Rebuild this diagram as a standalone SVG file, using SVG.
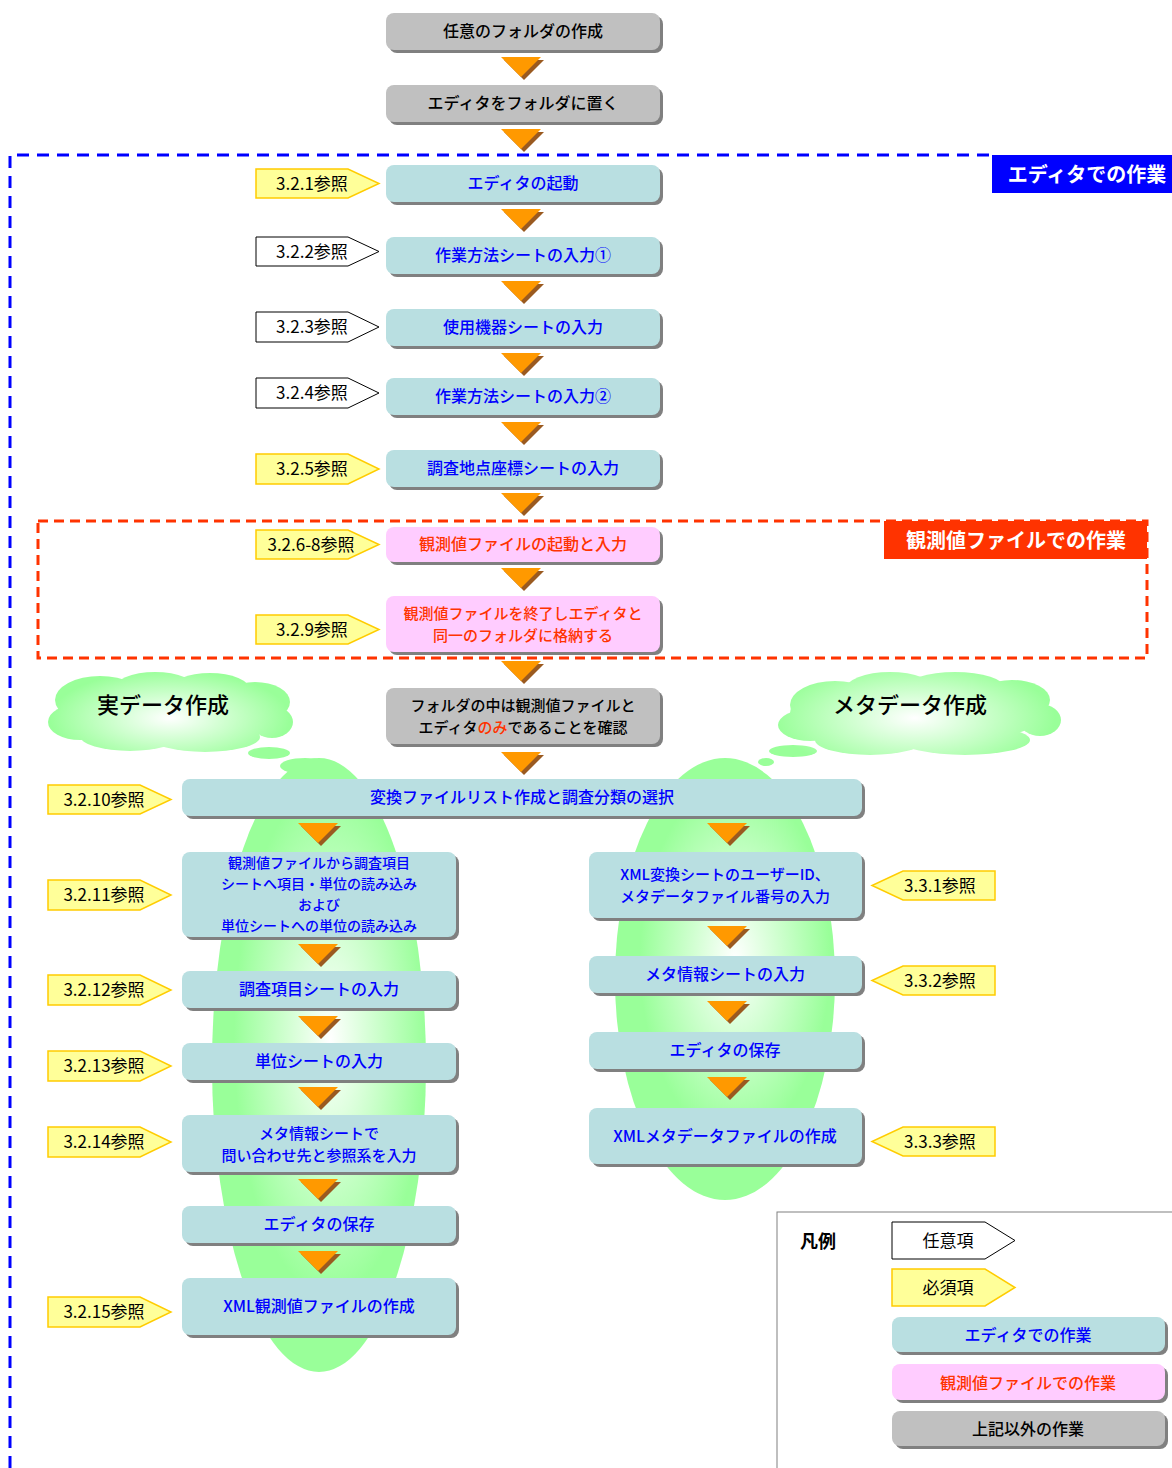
<svg xmlns="http://www.w3.org/2000/svg" xmlns:xlink="http://www.w3.org/1999/xlink" width="1172" height="1468" viewBox="0 0 1172 1468">
<defs>
<style>
text{font-family:"Noto Sans CJK JP","Noto Sans",sans-serif;}
.bt{font-size:16px;font-weight:500;text-anchor:middle;fill:#0000FF;}
.rt{font-size:16px;font-weight:500;text-anchor:middle;fill:#FF3300;}
.kt{font-size:16px;font-weight:500;text-anchor:middle;fill:#000;}
.m2{font-size:15px;}
.m4{font-size:14px;}
.tt{font-size:17px;text-anchor:middle;fill:#000;}
.sh{fill:#808080;}
.blu{fill:#B9DFE1;}
.pnk{fill:#FFCCFF;}
.gry{fill:#C0C0C0;}
.ytag{fill:#FFFF99;stroke:#FFCC00;stroke-width:1.5;}
.wtag{fill:#FFFFFF;stroke:#000;stroke-width:1;}
.cl{font-size:22px;font-weight:500;fill:#000;text-anchor:middle;}
.lab{font-size:20px;font-weight:bold;fill:#FFF;text-anchor:middle;}
</style>
<g id="arr">
<polygon points="-17,3 23,3 3,23" fill="#9A5A20"/>
<polygon points="-20,0 20,0 0,20" fill="#FF9900"/>
</g>
<radialGradient id="gL" gradientUnits="userSpaceOnUse" cx="330" cy="1040" r="200" gradientTransform="translate(330 1040) scale(0.6 1.6) translate(-330 -1040)">
<stop offset="0" stop-color="#FFFFFF"/>
<stop offset="0.8" stop-color="#99FF99"/>
</radialGradient>
<radialGradient id="gR" gradientUnits="userSpaceOnUse" cx="735" cy="960" r="140" gradientTransform="translate(735 960) scale(0.8 1.5) translate(-735 -960)">
<stop offset="0" stop-color="#FFFFFF"/>
<stop offset="0.85" stop-color="#99FF99"/>
</radialGradient>
<radialGradient id="gCL" gradientUnits="userSpaceOnUse" cx="170" cy="718" r="120" gradientTransform="translate(170 718) scale(1 0.4) translate(-170 -718)">
<stop offset="0" stop-color="#FFFFFF"/>
<stop offset="1" stop-color="#99FF99"/>
</radialGradient>
<radialGradient id="gCR" gradientUnits="userSpaceOnUse" cx="915" cy="718" r="140" gradientTransform="translate(915 718) scale(1 0.4) translate(-915 -718)">
<stop offset="0" stop-color="#FFFFFF"/>
<stop offset="1" stop-color="#99FF99"/>
</radialGradient>
</defs>
<rect width="1172" height="1468" fill="#FFFFFF"/>

<!-- green ellipses -->
<g id="ellipses">
<ellipse cx="319" cy="1065" rx="107" ry="307" fill="url(#gL)"/>
<ellipse cx="725" cy="979" rx="110" ry="221" fill="url(#gR)"/>
</g>

<!-- clouds -->
<g id="cloud-left">
<g fill="url(#gCL)">
<ellipse cx="170" cy="713" rx="112" ry="32"/>
<ellipse cx="100" cy="700" rx="45" ry="24"/>
<ellipse cx="155" cy="690" rx="42" ry="18"/>
<ellipse cx="210" cy="690" rx="40" ry="17"/>
<ellipse cx="255" cy="702" rx="35" ry="20"/>
<ellipse cx="272" cy="722" rx="21" ry="16"/>
<ellipse cx="80" cy="722" rx="32" ry="18"/>
<ellipse cx="130" cy="736" rx="50" ry="15"/>
<ellipse cx="205" cy="737" rx="55" ry="15"/>
<ellipse cx="269" cy="753" rx="21" ry="6"/>
<ellipse cx="305" cy="766" rx="25" ry="8"/>
</g>
<text class="cl" x="163" y="713">実データ作成</text>
</g>
<g id="cloud-right">
<g fill="url(#gCR)">
<ellipse cx="918" cy="713" rx="128" ry="32"/>
<ellipse cx="835" cy="705" rx="45" ry="24"/>
<ellipse cx="890" cy="690" rx="45" ry="18"/>
<ellipse cx="955" cy="688" rx="50" ry="16"/>
<ellipse cx="1012" cy="700" rx="38" ry="20"/>
<ellipse cx="1040" cy="720" rx="21" ry="16"/>
<ellipse cx="810" cy="725" rx="32" ry="16"/>
<ellipse cx="870" cy="740" rx="55" ry="15"/>
<ellipse cx="965" cy="740" rx="65" ry="15"/>
<ellipse cx="793" cy="751" rx="24" ry="6"/>
<ellipse cx="766" cy="762" rx="8" ry="4"/>
</g>
<text class="cl" x="910" y="713">メタデータ作成</text>
</g>

<!-- region frames -->
<g id="frame-editor">
<path d="M10,1468 V155 H995" fill="none" stroke="#0000FF" stroke-width="3" stroke-dasharray="12,8"/>
<rect x="992" y="155" width="182" height="38" fill="#0000FF"/>
<text class="lab" x="1087" y="182">エディタでの作業</text>
</g>
<g id="frame-obs">
<rect x="38" y="521" width="1109" height="137" fill="none" stroke="#FF3300" stroke-width="3" stroke-dasharray="10,6"/>
<rect x="884" y="521" width="263" height="38" fill="#FF3300"/>
<text class="lab" x="1016" y="548">観測値ファイルでの作業</text>
</g>

<!-- connectors -->
<g id="connectors">
<use xlink:href="#arr" x="521" y="57"/>
<use xlink:href="#arr" x="521" y="129"/>
<use xlink:href="#arr" x="521" y="209"/>
<use xlink:href="#arr" x="521" y="281"/>
<use xlink:href="#arr" x="521" y="353"/>
<use xlink:href="#arr" x="521" y="422"/>
<use xlink:href="#arr" x="521" y="493"/>
<use xlink:href="#arr" x="521" y="568"/>
<use xlink:href="#arr" x="521" y="661"/>
<use xlink:href="#arr" x="521" y="752"/>
<use xlink:href="#arr" x="318" y="823"/>
<use xlink:href="#arr" x="318" y="944"/>
<use xlink:href="#arr" x="318" y="1016"/>
<use xlink:href="#arr" x="318" y="1087"/>
<use xlink:href="#arr" x="318" y="1179"/>
<use xlink:href="#arr" x="318" y="1251"/>
<use xlink:href="#arr" x="727" y="823"/>
<use xlink:href="#arr" x="727" y="926"/>
<use xlink:href="#arr" x="727" y="1001"/>
<use xlink:href="#arr" x="727" y="1077"/>
</g>

<!-- main column nodes -->
<g id="n1"><rect class="sh" x="389" y="16" width="274" height="37" rx="8"/><rect class="gry" x="386" y="13" width="274" height="37" rx="8"/><text class="kt" x="523" y="37">任意のフォルダの作成</text></g>
<g id="n2"><rect class="sh" x="389" y="88" width="274" height="37" rx="8"/><rect class="gry" x="386" y="85" width="274" height="37" rx="8"/><text class="kt" x="523" y="109">エディタをフォルダに置く</text></g>
<g id="n3"><rect class="sh" x="389" y="168" width="274" height="37" rx="8"/><rect class="blu" x="386" y="165" width="274" height="37" rx="8"/><text class="bt" x="523" y="189">エディタの起動</text></g>
<g id="n4"><rect class="sh" x="389" y="240" width="274" height="37" rx="8"/><rect class="blu" x="386" y="237" width="274" height="37" rx="8"/><text class="bt" x="523" y="261">作業方法シートの入力①</text></g>
<g id="n5"><rect class="sh" x="389" y="312" width="274" height="37" rx="8"/><rect class="blu" x="386" y="309" width="274" height="37" rx="8"/><text class="bt" x="523" y="333">使用機器シートの入力</text></g>
<g id="n6"><rect class="sh" x="389" y="381" width="274" height="37" rx="8"/><rect class="blu" x="386" y="378" width="274" height="37" rx="8"/><text class="bt" x="523" y="402">作業方法シートの入力②</text></g>
<g id="n7"><rect class="sh" x="389" y="453" width="274" height="37" rx="8"/><rect class="blu" x="386" y="450" width="274" height="37" rx="8"/><text class="bt" x="523" y="474">調査地点座標シートの入力</text></g>
<g id="n8"><rect class="sh" x="389" y="530" width="274" height="35" rx="8"/><rect class="pnk" x="386" y="527" width="274" height="35" rx="8"/><text class="rt" x="523" y="550">観測値ファイルの起動と入力</text></g>
<g id="n9"><rect class="sh" x="389" y="599" width="274" height="56" rx="8"/><rect class="pnk" x="386" y="596" width="274" height="56" rx="8"/><text class="rt m2" x="523" y="619">観測値ファイルを終了しエディタと</text><text class="rt m2" x="523" y="641">同一のフォルダに格納する</text></g>
<g id="n10"><rect class="sh" x="389" y="691" width="274" height="56" rx="8"/><rect class="gry" x="386" y="688" width="274" height="56" rx="8"/><text class="kt m2" x="523" y="711">フォルダの中は観測値ファイルと</text><text class="kt m2" x="523" y="733">エディタ<tspan fill="#FF3300">のみ</tspan>であることを確認</text></g>
<g id="n11"><rect class="sh" x="185" y="782" width="680" height="37" rx="8"/><rect class="blu" x="182" y="779" width="680" height="37" rx="8"/><text class="bt" x="522" y="803">変換ファイルリスト作成と調査分類の選択</text></g>

<!-- left column -->
<g id="l1"><rect class="sh" x="185" y="855" width="274" height="85" rx="8"/><rect class="blu" x="182" y="852" width="274" height="85" rx="8"/>
<text class="bt m4" x="319" y="868">観測値ファイルから調査項目</text><text class="bt m4" x="319" y="889">シートへ項目・単位の読み込み</text><text class="bt m4" x="319" y="910">および</text><text class="bt m4" x="319" y="931">単位シートへの単位の読み込み</text></g>
<g id="l2"><rect class="sh" x="185" y="974" width="274" height="37" rx="8"/><rect class="blu" x="182" y="971" width="274" height="37" rx="8"/><text class="bt" x="319" y="995">調査項目シートの入力</text></g>
<g id="l3"><rect class="sh" x="185" y="1046" width="274" height="37" rx="8"/><rect class="blu" x="182" y="1043" width="274" height="37" rx="8"/><text class="bt" x="319" y="1067">単位シートの入力</text></g>
<g id="l4"><rect class="sh" x="185" y="1118" width="274" height="57" rx="8"/><rect class="blu" x="182" y="1115" width="274" height="57" rx="8"/><text class="bt m2" x="319" y="1139">メタ情報シートで</text><text class="bt m2" x="319" y="1161">問い合わせ先と参照系を入力</text></g>
<g id="l5"><rect class="sh" x="185" y="1209" width="274" height="37" rx="8"/><rect class="blu" x="182" y="1206" width="274" height="37" rx="8"/><text class="bt" x="319" y="1230">エディタの保存</text></g>
<g id="l6"><rect class="sh" x="185" y="1281" width="274" height="57" rx="8"/><rect class="blu" x="182" y="1278" width="274" height="57" rx="8"/><text class="bt" x="319" y="1312">XML観測値ファイルの作成</text></g>

<!-- right column -->
<g id="r1"><rect class="sh" x="592" y="855" width="273" height="66" rx="8"/><rect class="blu" x="589" y="852" width="273" height="66" rx="8"/><text class="bt m2" x="725" y="880">XML変換シートのユーザーID、</text><text class="bt m2" x="725" y="902">メタデータファイル番号の入力</text></g>
<g id="r2"><rect class="sh" x="592" y="959" width="273" height="37" rx="8"/><rect class="blu" x="589" y="956" width="273" height="37" rx="8"/><text class="bt" x="725" y="980">メタ情報シートの入力</text></g>
<g id="r3"><rect class="sh" x="592" y="1035" width="273" height="37" rx="8"/><rect class="blu" x="589" y="1032" width="273" height="37" rx="8"/><text class="bt" x="725" y="1056">エディタの保存</text></g>
<g id="r4"><rect class="sh" x="592" y="1111" width="273" height="56" rx="8"/><rect class="blu" x="589" y="1108" width="273" height="56" rx="8"/><text class="bt" x="725" y="1142">XMLメタデータファイルの作成</text></g>

<!-- reference tags -->
<g id="t321"><path class="ytag" d="M256,169 H348 L379,183.5 L348,198 H256 Z"/><text class="tt" x="312" y="190">3.2.1参照</text></g>
<g id="t322"><path class="wtag" d="M256,237 H348 L379,251.5 L348,266 H256 Z"/><text class="tt" x="312" y="258">3.2.2参照</text></g>
<g id="t323"><path class="wtag" d="M256,312 H348 L379,327 L348,342 H256 Z"/><text class="tt" x="312" y="333">3.2.3参照</text></g>
<g id="t324"><path class="wtag" d="M256,378 H348 L379,393 L348,408 H256 Z"/><text class="tt" x="312" y="399">3.2.4参照</text></g>
<g id="t325"><path class="ytag" d="M256,454 H348 L379,469 L348,484 H256 Z"/><text class="tt" x="312" y="475">3.2.5参照</text></g>
<g id="t326"><path class="ytag" d="M256,530 H348 L379,544.5 L348,559 H256 Z"/><text class="tt" x="311" y="551">3.2.6-8参照</text></g>
<g id="t329"><path class="ytag" d="M256,615 H348 L379,629.5 L348,644 H256 Z"/><text class="tt" x="312" y="636">3.2.9参照</text></g>
<g id="t3210"><path class="ytag" d="M48,785 H140 L171,799.5 L140,814 H48 Z"/><text class="tt" x="104" y="806">3.2.10参照</text></g>
<g id="t3211"><path class="ytag" d="M48,880 H140 L171,895 L140,910 H48 Z"/><text class="tt" x="104" y="901">3.2.11参照</text></g>
<g id="t3212"><path class="ytag" d="M48,975 H140 L171,990 L140,1005 H48 Z"/><text class="tt" x="104" y="996">3.2.12参照</text></g>
<g id="t3213"><path class="ytag" d="M48,1051 H140 L171,1066 L140,1081 H48 Z"/><text class="tt" x="104" y="1072">3.2.13参照</text></g>
<g id="t3214"><path class="ytag" d="M48,1127 H140 L171,1142 L140,1157 H48 Z"/><text class="tt" x="104" y="1148">3.2.14参照</text></g>
<g id="t3215"><path class="ytag" d="M48,1297 H140 L171,1312 L140,1327 H48 Z"/><text class="tt" x="104" y="1318">3.2.15参照</text></g>
<g id="t331"><path class="ytag" d="M995,871 H903 L872,885.5 L903,900 H995 Z"/><text class="tt" x="940" y="892">3.3.1参照</text></g>
<g id="t332"><path class="ytag" d="M995,966 H903 L872,980.5 L903,995 H995 Z"/><text class="tt" x="940" y="987">3.3.2参照</text></g>
<g id="t333"><path class="ytag" d="M995,1127 H903 L872,1141.5 L903,1156 H995 Z"/><text class="tt" x="940" y="1148">3.3.3参照</text></g>

<!-- legend -->
<g id="legend">
<rect x="777" y="1212" width="400" height="260" fill="#FFFFFF" stroke="#808080" stroke-width="1"/>
<text x="800" y="1248" font-size="18" font-weight="bold" fill="#000">凡例</text>
<path class="wtag" d="M892,1222 H985 L1015,1240.5 L985,1259 H892 Z"/><text class="tt" x="948" y="1247" font-size="16">任意項</text>
<path class="ytag" d="M892,1269 H985 L1015,1287.5 L985,1306 H892 Z"/><text class="tt" x="948" y="1294" font-size="16">必須項</text>
<rect class="sh" x="895" y="1320" width="273" height="35" rx="8"/><rect class="blu" x="892" y="1317" width="273" height="35" rx="8"/><text class="bt" x="1028" y="1341">エディタでの作業</text>
<rect class="sh" x="895" y="1367" width="273" height="36" rx="8"/><rect class="pnk" x="892" y="1364" width="273" height="36" rx="8"/><text class="rt" x="1028" y="1389">観測値ファイルでの作業</text>
<rect class="sh" x="895" y="1414" width="273" height="35" rx="8"/><rect class="gry" x="892" y="1411" width="273" height="35" rx="8"/><text class="kt" x="1028" y="1435">上記以外の作業</text>
</g>
</svg>
